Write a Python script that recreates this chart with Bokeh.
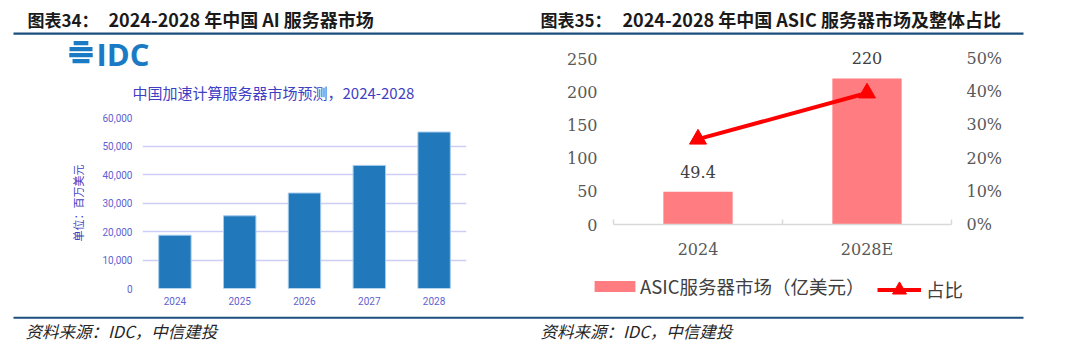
import math
from bokeh.plotting import figure
from bokeh.layouts import row, column
from bokeh.models import (ColumnDataSource, FactorRange, Range1d, LinearAxis, CategoricalAxis,
                          FixedTicker, NumeralTickFormatter, LabelSet, Legend, LegendItem)
from bokeh.core.properties import value
from bokeh.embed import file_html
from bokeh.resources import INLINE

# ---------------- data ----------------
idc_years = ["2024", "2025", "2026", "2027", "2028"]
idc_values = [18700, 25500, 33500, 43200, 54900]
idc_ticks = [0, 10000, 20000, 30000, 40000, 50000, 60000]

asic_years = ["2024", "2028E"]
asic_market = [49.4, 220]
asic_market_labels = ["49.4", "220"]
asic_share = [0.257, 0.396]
market_ticks = [0, 50, 100, 150, 200, 250]
share_ticks = [0, 0.1, 0.2, 0.3, 0.4, 0.5]
legend_labels = ["ASIC服务器市场（亿美元）", "占比"]

CJK = "Noto Sans CJK SC"
SERIF = "DejaVu Serif"
NAVY = "#1b4f7c"
PINK = "#ff7c80"
RED = "#ff0000"

HEADER_H = 36      # header strip: canvas rows 0-36
LOGO_BOTTOM = 104  # left logo strip: rows 36-104
FOOTER_TOP = 316   # footer strip: rows 316-352


def canvas_fig(w, h):
    """A figure whose frame is the whole canvas, in pixel coordinates (y downwards)."""
    p = figure(width=w, height=h, x_range=Range1d(0, w), y_range=Range1d(h, 0),
               min_border=0, toolbar_location=None, output_backend="svg",
               x_axis_location=None, y_axis_location=None, frame_align=False)
    for g in p.grid:
        g.visible = False
    p.outline_line_color = None
    p.background_fill_color = "white"
    p.border_fill_color = "white"
    return p


def draw_text(p, xs, ys, texts, size, color="#1a1a1a", font=CJK, style="normal", align="left"):
    p.text(x=xs, y=ys, text=texts, text_font=value(font), text_font_size=f"{size}px",
           text_color=color, text_font_style=value(style), text_align=align,
           text_baseline="middle")


# ---------------- header strip ----------------
header = canvas_fig(1080, HEADER_H)
draw_text(header, [27, 540], [18.5, 18.5], ["图表34：", "图表35："], 17, style="bold")
draw_text(header, [108, 622], [18.5, 18.5],
          ["2024-2028 年中国 AI 服务器市场", "2024-2028 年中国 ASIC 服务器市场及整体占比"],
          18, style="bold")
header.quad(left=[13], right=[1023], top=[32], bottom=[34.3], fill_color=NAVY, line_color=None)

# ---------------- footer strip ----------------
footer = canvas_fig(1080, 352 - FOOTER_TOP)
footer.quad(left=[13], right=[1023], top=[0], bottom=[2.3], fill_color=NAVY, line_color=None)
draw_text(footer, [25, 540], [14, 14], ["资料来源：IDC，中信建投", "资料来源：IDC，中信建投"],
          16.5, color="#262626", style="italic")

# ---------------- left: logo + subtitle ----------------
logo = canvas_fig(540, LOGO_BOTTOM - HEADER_H)
oy = 40 - HEADER_H
cx, cy, r = 80.5, 12.0 + oy, 12.0
lefts, rights, tops, bottoms = [], [], [], []
for yt in (0.5, 6.5, 12.5, 18.5):
    yt += oy
    yc = yt + 2.0
    hw = math.sqrt(max(r * r - (yc - cy) ** 2, 0))
    lefts.append(cx - hw); rights.append(cx + hw); tops.append(yt); bottoms.append(yt + 4.2)
logo.quad(left=lefts, right=rights, top=tops, bottom=bottoms, fill_color="#1a7bc4", line_color=None)
draw_text(logo, [96], [13 + oy], ["IDC"], 31, color="#1a7bc4", font="Open Sans", style="bold")
draw_text(logo, [132], [92 - HEADER_H], ["中国加速计算服务器市场预测，2024-2028"], 15,
          color="#3f3fc4")

# ---------------- left: IDC bar chart ----------------
src1 = ColumnDataSource(dict(year=idc_years, value=idc_values))
p1 = figure(width=540, height=FOOTER_TOP - LOGO_BOTTOM, x_range=FactorRange(*idc_years),
            y_range=Range1d(idc_ticks[0], idc_ticks[-1]),
            output_backend="svg", toolbar_location=None, frame_align=False,
            min_border_left=142, min_border_right=74, min_border_top=117 - LOGO_BOTTOM,
            min_border_bottom=FOOTER_TOP - 288)
p1.outline_line_color = None
p1.background_fill_color = "white"
p1.border_fill_color = "white"
p1.vbar(x="year", top="value", width=0.5, source=src1,
        fill_color="#2178ba", line_color="#a3cbec", line_width=1)
p1.xgrid.visible = False
p1.ygrid.grid_line_color = "#cdcdf5"
p1.ygrid.grid_line_width = 1.5
for ax in (p1.xaxis[0], p1.yaxis[0]):
    ax.axis_line_color = None
    ax.major_tick_line_color = None
    ax.minor_tick_line_color = None
    ax.major_tick_out = 0
    ax.major_tick_in = 0
    ax.major_label_text_font = "Roboto"
    ax.major_label_text_font_size = "10px"
    ax.major_label_text_color = "#5f5fcf"
p1.yaxis.ticker = FixedTicker(ticks=idc_ticks)
p1.yaxis.formatter = NumeralTickFormatter(format="0,0")
p1.yaxis.major_label_standoff = 10
p1.xaxis.major_label_standoff = 8
p1.yaxis.axis_label = "单位：百万美元"
p1.yaxis.axis_label_text_font = CJK
p1.yaxis.axis_label_text_font_size = "11px"
p1.yaxis.axis_label_text_font_style = "normal"
p1.yaxis.axis_label_text_color = "#3f3fc4"
p1.yaxis.axis_label_standoff = 13

# ---------------- right: ASIC chart ----------------
AX_TOP_PX, AX_BOTTOM_PX, FIG_BOTTOM_PX = 58, 224, 262
stretch = (AX_BOTTOM_PX - HEADER_H) / (AX_BOTTOM_PX - AX_TOP_PX)

src2 = ColumnDataSource(dict(year=asic_years, market=asic_market,
                             label=asic_market_labels, share=asic_share))
p2 = figure(width=540, height=FIG_BOTTOM_PX - HEADER_H, x_range=FactorRange(*asic_years),
            y_range=Range1d(0, market_ticks[-1] * stretch),
            x_axis_location=None, output_backend="svg", toolbar_location=None, frame_align=False,
            min_border_left=73, min_border_right=129, min_border_top=0,
            min_border_bottom=FIG_BOTTOM_PX - AX_BOTTOM_PX)
p2.outline_line_color = None
p2.background_fill_color = "white"
p2.border_fill_color = "white"
p2.extra_y_ranges = {"pct": Range1d(0, share_ticks[-1] * stretch)}
for g in p2.grid:
    g.visible = False

bars = p2.vbar(x="year", top="market", width=0.41, source=src2,
               fill_color=PINK, line_color=None)
line_r = p2.line(x="year", y="share", source=src2, y_range_name="pct",
                 line_color=RED, line_width=4)
pts = p2.scatter(x="year", y="share", source=src2, y_range_name="pct",
                 marker="triangle", size=17, fill_color=RED, line_color=RED)

p2.add_layout(LabelSet(x="year", y="market", text="label", source=src2,
                       y_offset=14, text_align="center", text_baseline="alphabetic",
                       text_font=value(SERIF), text_font_size="16px", text_color="#404040"))

p2.yaxis.ticker = FixedTicker(ticks=market_ticks)
right_axis = LinearAxis(y_range_name="pct", ticker=FixedTicker(ticks=share_ticks),
                        formatter=NumeralTickFormatter(format="0%"))
p2.add_layout(right_axis, "right")
for ax in (p2.yaxis[0], right_axis):
    ax.axis_line_color = None
    ax.major_tick_line_color = None
    ax.minor_tick_line_color = None
    ax.major_tick_out = 0
    ax.major_tick_in = 0
    ax.major_label_text_font = SERIF
    ax.major_label_text_font_size = "16px"
    ax.major_label_text_color = "#595959"
p2.yaxis[0].major_label_standoff = 16
right_axis.major_label_standoff = 15

# category-boundary ticks (synthetic coordinates 0..n on the categorical scale)
edge_axis = LinearAxis(ticker=FixedTicker(ticks=list(range(len(asic_years) + 1))),
                       axis_line_color="#d9d9d9", axis_line_width=1.5,
                       major_tick_line_color="#d9d9d9", major_tick_line_width=1.5,
                       major_tick_in=5, major_tick_out=0, minor_tick_line_color=None,
                       major_label_text_font_size="1px", major_label_text_alpha=0,
                       major_label_standoff=0)
cat_axis = CategoricalAxis(axis_line_color=None, major_tick_line_color=None,
                           minor_tick_line_color=None, major_tick_out=0, major_tick_in=0,
                           major_label_text_font=SERIF, major_label_text_font_size="16px",
                           major_label_text_color="#595959", major_label_standoff=15)
p2.add_layout(edge_axis, "below")
p2.add_layout(cat_axis, "below")

# ---------------- right: legend strip ----------------
# legend-only renderers (one point each, placed off the strip) carrying the series styles
leg_fig = canvas_fig(540, FOOTER_TOP - FIG_BOTTOM_PX)
leg_bar = leg_fig.vbar(x=[-100], top=[-100], bottom=[-110], width=1,
                       fill_color=PINK, line_color=None)
leg_line = leg_fig.line(x=[-100, -90], y=[-100, -100], line_color=RED, line_width=4)
leg_pts = leg_fig.scatter(x=[-100], y=[-100], marker="triangle", size=17,
                          fill_color=RED, line_color=RED)
common = dict(orientation="horizontal", padding=0, margin=0, background_fill_alpha=0,
              border_line_color=None, inactive_fill_alpha=0,
              label_text_font=CJK, label_text_font_size="18.5px", label_text_color="#404040")
legend_bar = Legend(items=[LegendItem(label=legend_labels[0], renderers=[leg_bar])],
                    location=(49, 17), glyph_width=51, glyph_height=14, label_standoff=0,
                    **common)
legend_line = Legend(items=[LegendItem(label=legend_labels[1], renderers=[leg_line, leg_pts])],
                     location=(337, 9.5), glyph_width=44, glyph_height=35, label_standoff=5,
                     **common)
leg_fig.add_layout(legend_bar)
leg_fig.add_layout(legend_line)

layout = column(header, row(column(logo, p1), column(p2, leg_fig)), footer)
open("out.html", "w").write(file_html(layout, INLINE))
